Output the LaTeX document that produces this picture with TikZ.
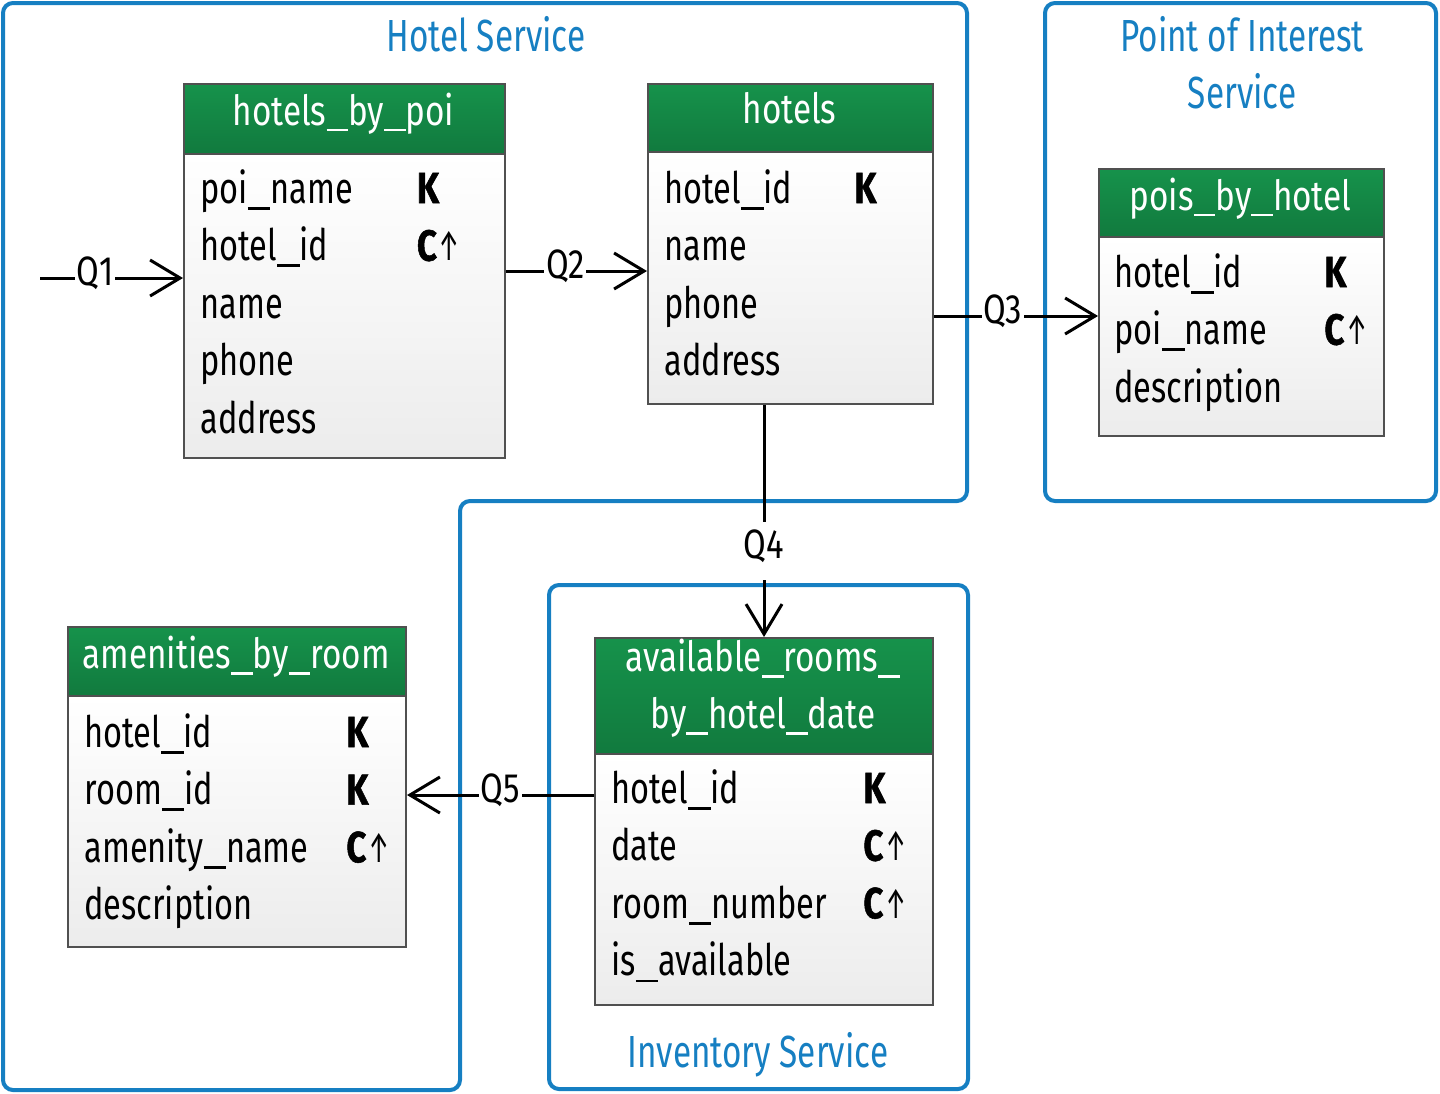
\documentclass[tikz,border=0pt]{standalone}
\usepackage{fontspec}
\setmainfont{Fira Sans}[FakeStretch=0.8]
\newfontfamily\bodyfam{Fira Sans}[FakeStretch=0.75]
\newfontfamily\kfam{Fira Sans}[FakeStretch=0.8,BoldFeatures={FakeBold=1.2}]
\newfontfamily\arrfam{Fira Sans}[FakeStretch=0.55]
\newfontfamily\ttlfam{Fira Sans}[FakeStretch=0.74]
\usetikzlibrary{arrows.meta}
\definecolor{svcblue}{RGB}{22,127,194}
\definecolor{hdrtop}{RGB}{22,146,75}
\definecolor{hdrbot}{RGB}{17,122,62}
\definecolor{tblborder}{RGB}{80,80,80}
\definecolor{bodybot}{RGB}{236,236,236}
\newcommand\bodyfont{\bodyfam\fontsize{21.7}{28.8}\selectfont}
\newcommand\hdrfont{\fontsize{20.8}{28.5}\selectfont}
\newcommand\ttlfont{\ttlfam\fontsize{22.5}{28.3}\selectfont}
\newcommand\qfont{\fontsize{20.5}{24}\selectfont}
\newcommand\us{\rule[-0.15em]{0.52em}{0.065em}}
\newcommand\kc{{\kfam\bfseries K}}
\newcommand\cu{{\kfam\bfseries C}\kern1pt{\arrfam ↑}}
\begin{document}
\begin{tikzpicture}[x=0.5pt,y=-0.5pt,
  svc/.style={draw=svcblue,line width=2pt,rounded corners=5pt},
  hdr/.style={draw=tblborder,line width=1pt,top color=hdrtop,bottom color=hdrbot,inner sep=0pt,anchor=north west},
  tbody/.style={draw=tblborder,line width=1pt,top color=white,bottom color=bodybot,inner sep=0pt,anchor=north west},
  htext/.style={text=white,font=\hdrfont,anchor=base,inner sep=0pt},
  ftext/.style={font=\bodyfont,anchor=base west,inner sep=0pt},
  ttl/.style={text=svcblue,font=\ttlfont,anchor=base,inner sep=0pt},
  wire/.style={line width=1.5pt},
  conn/.style={wire,-{Straight Barb[length=15pt,width=18pt,line width=1.5pt]}},
  qlab/.style={fill=white,inner xsep=1pt,inner ysep=1pt,font=\qfont,anchor=base,yshift=-3.5pt},
  q4lab/.style={font=\qfont,anchor=base,text height=16.5pt,text depth=9.5pt,inner xsep=1pt,inner ysep=1.5pt}]
\useasboundingbox (0,0) rectangle (1440,1093);

% service containers
\draw[svc] (3,3) -- (967,3) -- (967,501) -- (460,501) -- (460,1090) -- (3,1090) -- cycle;
\draw[svc] (1045,3) rectangle (1436,501);
\draw[svc] (549,585) rectangle (968,1089);

\node[ttl] (hs-title) at (486,51.7) {Hotel Service};
\node[ttl] (poi-title) at (1242,51.7) {\begin{tabular}[t]{@{}c@{}}Point of Interest\\Service\end{tabular}};
\node[ttl] (inv-title) at (758,1067) {Inventory Service};

% hotels_by_poi
\node[tbody,minimum width=160.5pt,minimum height=152pt] (hbp-b) at (183,153) {};
\node[hdr,minimum width=160.5pt,minimum height=35pt] (hbp-h) at (183,83) {};
\node[htext] (hbp-t) at (343.5,125) {hotels\us by\us poi};
\node[ftext] (hbp-f) at (200,203) {\begin{tabular}[t]{@{}p{108.3pt}@{}l@{}}
poi\us name & \kc\\ hotel\us id & \cu\\ name & \\ phone & \\ address & \end{tabular}};

% hotels
\node[tbody,minimum width=142.5pt,minimum height=126pt] (hot-b) at (647,151) {};
\node[hdr,minimum width=142.5pt,minimum height=34pt] (hot-h) at (647,83) {};
\node[htext] (hot-t) at (789.5,123.3) {hotels};
\node[ftext] (hot-f) at (664,203) {\begin{tabular}[t]{@{}p{95pt}@{}l@{}}
hotel\us id & \kc\\ name & \\ phone & \\ address & \end{tabular}};

% pois_by_hotel
\node[tbody,minimum width=142.5pt,minimum height=99.5pt] (pois-b) at (1098,236) {};
\node[hdr,minimum width=142.5pt,minimum height=34pt] (pois-h) at (1098,168) {};
\node[htext] (pois-t) at (1240.5,210) {pois\us by\us hotel};
\node[ftext] (pois-f) at (1114,287) {\begin{tabular}[t]{@{}p{105pt}@{}l@{}}
hotel\us id & \kc\\ poi\us name & \cu\\ description & \end{tabular}};

% amenities_by_room
\node[tbody,minimum width=169pt,minimum height=125.5pt] (amen-b) at (67,695) {};
\node[hdr,minimum width=169pt,minimum height=34.5pt] (amen-h) at (67,626) {};
\node[htext] (amen-t) at (236,668.3) {amenities\us by\us room};
\node[ftext] (amen-f) at (84,747) {\begin{tabular}[t]{@{}p{131pt}@{}l@{}}
hotel\us id & \kc\\ room\us id & \kc\\ amenity\us name & \cu\\ description & \end{tabular}};

% available_rooms_by_hotel_date
\node[tbody,minimum width=169pt,minimum height=125.5pt] (avail-b) at (594,753) {};
\node[hdr,minimum width=169pt,minimum height=58pt] (avail-h) at (594,637) {};
\node[htext] (avail-t) at (763,671.7) {\begin{tabular}[t]{@{}c@{}}available\us rooms\us\\by\us hotel\us date\end{tabular}};
\node[ftext] (avail-f) at (611,803) {\begin{tabular}[t]{@{}p{126pt}@{}l@{}}
hotel\us id & \kc\\ date & \cu\\ room\us number & \cu\\ is\us available & \end{tabular}};

% connectors
\coordinate (q1s) at (40,278);
\coordinate (y271) at (0,271);
\coordinate (y316) at (0,316);
\coordinate (y795) at (0,795);
\draw[conn] (q1s) -- node[qlab,pos=0.385]{Q1} (q1s -| hbp-b.west);
\draw[conn] (hbp-b.east |- y271) -- node[qlab,pos=0.42]{Q2} (hot-b.west |- y271);
\draw[conn] (hot-b.east |- y316) -- node[qlab,pos=0.42]{Q3} (pois-b.west |- y316);
\node[q4lab] (q4) at (764,558) {Q4};
\draw[wire] (hot-b.south -| q4.north) -- (q4.north);
\draw[conn] (q4.south) -- (avail-h.north -| q4.south);
\draw[conn] (avail-b.west |- y795) -- node[qlab,pos=0.5]{Q5} (amen-b.east |- y795);
\end{tikzpicture}
\end{document}
